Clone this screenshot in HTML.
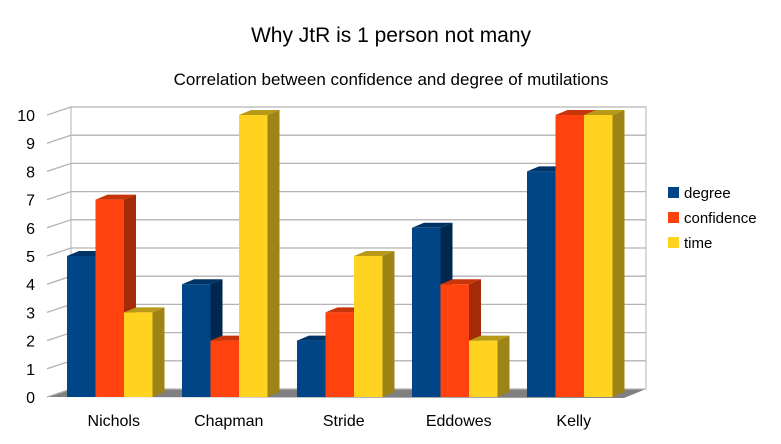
<!DOCTYPE html>
<html><head><meta charset="utf-8"><style>
body{margin:0;background:#fff;font-family:"Liberation Sans",sans-serif;}
svg text{font-family:"Liberation Sans",sans-serif;}
</style></head><body>
<svg width="781" height="439">
<text x="391" y="42" font-size="21" text-anchor="middle">Why JtR is 1 person not many</text>
<text x="391" y="85" font-size="17" text-anchor="middle">Correlation between confidence and degree of mutilations</text>
<g id="grid"></g><g id="bars"></g><g id="axis"></g>
<g>
<rect x="668" y="187" width="11" height="11" fill="#004586"/>
<text x="684" y="198" font-size="15">degree</text>
<rect x="668" y="212" width="11" height="11" fill="#ff420e"/>
<text x="684" y="223" font-size="15">confidence</text>
<rect x="668" y="237" width="11" height="11" fill="#ffd320"/>
<text x="684" y="248" font-size="15">time</text>
</g>
</svg>
<script>
const categories=["Nichols","Chapman","Stride","Eddowes","Kelly"];
const degree=[5,4,2,6,8];
const confidence=[7,2,3,4,10];
const time=[3,10,5,2,10];
const yTicks=[0,1,2,3,4,5,6,7,8,9,10];
const NS="http://www.w3.org/2000/svg";
const x0=47,y0=397,unit=28.2,dx=24,dy=-8,groupW=115,barW=28.5,firstBar=67;
function yS(v){return y0-v*unit;}
function mk(t,a,p){const e=document.createElementNS(NS,t);for(const k in a)e.setAttribute(k,a[k]);p.appendChild(e);return e;}
const grid=document.getElementById('grid'),bars=document.getElementById('bars'),axis=document.getElementById('axis');
// walls
const bw=mk('polygon',{points:`${x0+dx},${yS(10)+dy} ${646},${yS(10)+dy} 646,${y0+dy} ${x0+dx},${y0+dy}`,fill:'#fff',stroke:'#b3b3b3'},grid);


const fl=mk('polygon',{points:`${x0},${y0} ${624},${y0+1} 646,${y0+dy} ${x0+dx},${y0+dy}`,fill:'#808080'},grid);


yTicks.forEach(v=>{
  const y=yS(v);
  const l=mk('polyline',{points:`${x0},${y} ${x0+dx},${y+dy} 646,${y+dy}`,fill:'none',stroke:'#b3b3b3','stroke-width':1.3},grid);
  
  
  const t=mk('text',{x:35,y:y+6,'font-size':16,'text-anchor':'end'},axis);t.textContent=v;
  
  
});
mk('line',{x1:x0+dx,y1:yS(10)+dy,x2:x0+dx,y2:y0+dy,stroke:'#b3b3b3'},grid);
const series=[[degree,'#004586','#00284e','#003366','degree'],[confidence,'#ff420e','#a52a08','#c8350b','confidence'],[time,'#ffd320','#9e8416','#b89a18','time']];
const bdx=12,bdy=-5;
categories.forEach((c,i)=>{
  series.forEach((s,j)=>{
    const v=s[0][i];const x=firstBar+i*groupW+j*barW;const yt=yS(v);
    const g=mk('g',{},bars);
    
    
    mk('polygon',{points:`${x+barW},${yt} ${x+barW+bdx},${yt+bdy} ${x+barW+bdx},${y0+bdy} ${x+barW},${y0}`,fill:s[2]},g);
    mk('polygon',{points:`${x},${yt} ${x+bdx},${yt+bdy} ${x+barW+bdx},${yt+bdy} ${x+barW},${yt}`,fill:s[3]},g);
    mk('rect',{x:x,y:yt,width:barW,height:y0-yt,fill:s[1]},g);
  });
  const t=mk('text',{x:firstBar+i*groupW+barW*1.5+4,y:426,'font-size':16,'text-anchor':'middle'},axis);t.textContent=c;
  
  
});
</script>
</body></html>
